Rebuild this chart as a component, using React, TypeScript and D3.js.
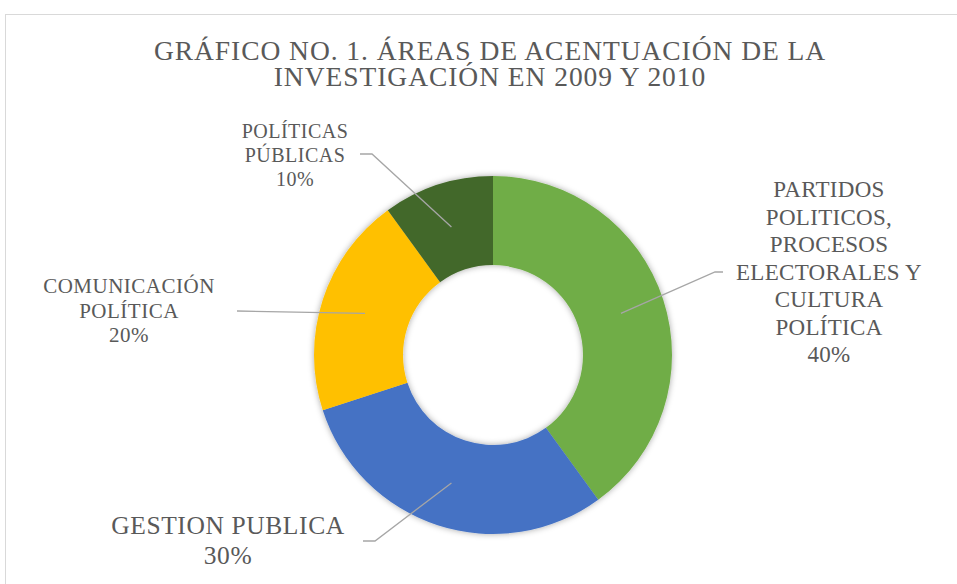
import React from "react";
import * as d3 from "d3";

const titleLines = ["GRÁFICO NO. 1. ÁREAS DE ACENTUACIÓN DE LA", "INVESTIGACIÓN EN 2009 Y 2010"];
const categories = [
  "PARTIDOS POLITICOS, PROCESOS ELECTORALES Y CULTURA POLÍTICA",
  "GESTION PUBLICA",
  "COMUNICACIÓN POLÍTICA",
  "POLÍTICAS PÚBLICAS",
];
const labelLines = [
  ["PARTIDOS", "POLITICOS,", "PROCESOS", "ELECTORALES Y", "CULTURA", "POLÍTICA"],
  ["GESTION PUBLICA"],
  ["COMUNICACIÓN", "POLÍTICA"],
  ["POLÍTICAS", "PÚBLICAS"],
];
const values = [40, 30, 20, 10];
const colors = ["#70AD47", "#4472C4", "#FFC000", "#43682B"];

// label layout (positions chosen to match the reference)
const labelLayout = [
  { cx: 829, y0: 197, lh: 27.5, fs: 23, ls: 0.3, elbow: [715, 272], end: [723, 272] },
  { cx: 228, y0: 534, lh: 30, fs: 25.5, ls: 0.6, elbow: [375, 541], end: [363, 541] },
  { cx: 129, y0: 293, lh: 24.5, fs: 21, ls: 0.5, elbow: null, end: [237, 311] },
  { cx: 295, y0: 138, lh: 24, fs: 20, ls: 0.5, elbow: [372, 154], end: [360, 154] },
];

const W = 957;
const H = 584;
const CX = 493;
const CY = 355;
const R = 179;
const IR = 90;
const FONT = "'Liberation Serif', 'Times New Roman', serif";
const TEXT = "#595959";

export default function App() {
  const pie = d3.pie<number>().sort(null).value((d) => d)(values);
  const arc = d3.arc<d3.PieArcDatum<number>>().innerRadius(IR).outerRadius(R);
  const total = d3.sum(values);
  const pct = d3.format(".0%");

  return (
    <svg width={W} height={H} style={{ position: "absolute", left: 0, top: 0, background: "#fff" }}>
      <defs>
        <filter id="sh" x="-20%" y="-20%" width="140%" height="140%">
          <feDropShadow dx="0" dy="0" stdDeviation="3" floodColor="#000" floodOpacity="0.35" />
        </filter>
      </defs>
      <rect x={5.5} y={14.5} width={W + 20} height={H + 20} fill="#fff" stroke="#d9d9d9" strokeWidth={1} />
      <text fontFamily={FONT} fill={TEXT} textAnchor="middle" fontSize={27.5} letterSpacing={0.95}>
        {titleLines.map((t, i) => (
          <tspan key={i} x={490} y={59.5 + i * 26.5}>
            {t}
          </tspan>
        ))}
      </text>
      <g transform={`translate(${CX},${CY})`} filter="url(#sh)">
        {pie.map((p, i) => (
          <path key={categories[i]} d={arc(p) || ""} fill={colors[i]} />
        ))}
      </g>
      <g fill="none" stroke="#a6a6a6" strokeWidth={1.3}>
        {pie.map((p, i) => {
          const [x, y] = arc.centroid(p);
          const L = labelLayout[i];
          const pts: [number, number][] = [[CX + x, CY + y]];
          if (L.elbow) pts.push(L.elbow as [number, number]);
          pts.push(L.end as [number, number]);
          return <path key={i} d={d3.line()(pts) || ""} />;
        })}
      </g>
      <g fontFamily={FONT} fill={TEXT} textAnchor="middle">
        {labelLines.map((lines, i) => {
          const L = labelLayout[i];
          const all = [...lines, pct(values[i] / total)];
          return (
            <text key={i} fontSize={L.fs} letterSpacing={L.ls}>
              {all.map((s, j) => (
                <tspan key={j} x={L.cx} y={L.y0 + j * L.lh}>
                  {s}
                </tspan>
              ))}
            </text>
          );
        })}
      </g>
    </svg>
  );
}
